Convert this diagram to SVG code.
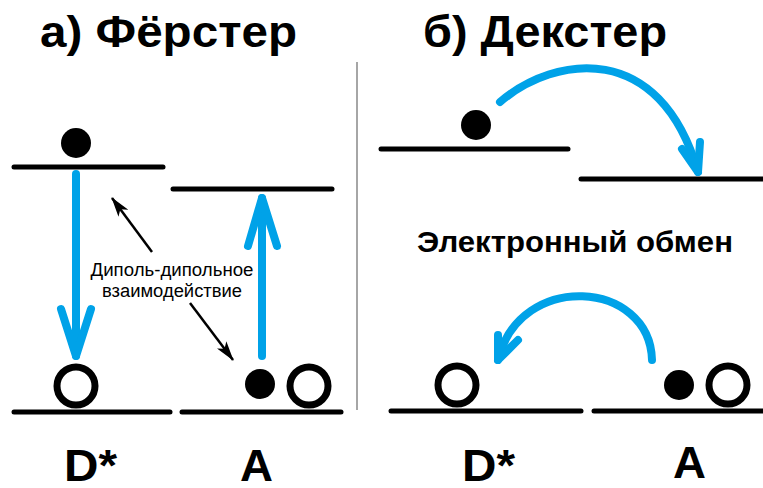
<svg xmlns="http://www.w3.org/2000/svg" width="763" height="488" viewBox="0 0 763 488">
<style>
.lvl{stroke:#000;stroke-width:5;stroke-linecap:round;fill:none}
.blue{stroke:#00a2e8;stroke-width:8;stroke-linecap:round;stroke-linejoin:round;fill:none}
.thin{stroke:#000;stroke-width:2.5;fill:none}
.dot{fill:#000}
.hole{fill:#fff;stroke:#000;stroke-width:7}
.title{font-family:"Liberation Sans",Arial,sans-serif;font-weight:bold;font-size:44px;fill:#000}
.lab{font-family:"Liberation Sans",Arial,sans-serif;font-weight:bold;font-size:44px;fill:#000}
.small{font-family:"Liberation Sans",Arial,sans-serif;font-size:18px;fill:#000;text-anchor:middle}
.mid{font-family:"Liberation Sans",Arial,sans-serif;font-weight:bold;font-size:30px;fill:#000}
</style>
<defs>
<marker id="ah" markerWidth="20" markerHeight="12" refX="19" refY="6" orient="auto" markerUnits="userSpaceOnUse">
<path d="M0,0 L20,6 L0,12 L5,6 Z" fill="#000"/>
</marker>
</defs>
<rect width="763" height="488" fill="#fff"/>
<g id="titles">
<text class="title" x="40" y="47" textLength="257" lengthAdjust="spacingAndGlyphs">а) Фёрстер</text>
<text class="title" x="423" y="47" textLength="244" lengthAdjust="spacingAndGlyphs">б) Декстер</text>
</g>
<line x1="357" y1="62" x2="357" y2="410" stroke="#888" stroke-width="1.5"/>
<g id="forster-donor">
<line class="lvl" x1="14" y1="167" x2="163" y2="167"/>
<line class="lvl" x1="14" y1="412" x2="170" y2="412"/>
<circle class="dot" cx="76" cy="143" r="15"/>
<circle class="hole" cx="76" cy="386" r="19"/>
<text class="lab" x="64" y="481" textLength="53" lengthAdjust="spacingAndGlyphs">D*</text>
</g>
<g id="forster-acceptor">
<line class="lvl" x1="173" y1="189" x2="332" y2="189"/>
<line class="lvl" x1="182" y1="412" x2="341" y2="412"/>
<circle class="dot" cx="260" cy="384" r="15"/>
<circle class="hole" cx="309" cy="386" r="19"/>
<text class="lab" x="240" y="481" textLength="33" lengthAdjust="spacingAndGlyphs">A</text>
</g>
<g id="dexter-donor">
<line class="lvl" x1="381" y1="149" x2="568" y2="149"/>
<line class="lvl" x1="391" y1="411" x2="581" y2="411"/>
<circle class="dot" cx="476" cy="125" r="15"/>
<circle class="hole" cx="457" cy="385" r="19"/>
<text class="lab" x="462" y="481" textLength="53" lengthAdjust="spacingAndGlyphs">D*</text>
</g>
<g id="dexter-acceptor">
<line class="lvl" x1="581" y1="179" x2="763" y2="179"/>
<line class="lvl" x1="594" y1="411" x2="763" y2="411"/>
<circle class="dot" cx="679" cy="385" r="15"/>
<circle class="hole" cx="728" cy="385" r="19"/>
<text class="lab" x="673" y="478" textLength="33" lengthAdjust="spacingAndGlyphs">A</text>
</g>
<g id="labels">
<text class="small" x="172" y="276" textLength="163" lengthAdjust="spacingAndGlyphs">Диполь-дипольное</text>
<text class="small" x="172" y="297" textLength="140" lengthAdjust="spacingAndGlyphs">взаимодействие</text>
<text class="mid" x="417" y="252" textLength="316" lengthAdjust="spacingAndGlyphs">Электронный обмен</text>
</g>
<g id="connectors">
<line class="blue" x1="76" y1="174" x2="76" y2="356"/>
<polyline class="blue" points="61,309 76,356 91,309"/>
<line class="blue" x1="262" y1="356" x2="262" y2="198"/>
<polyline class="blue" points="248,246 262,198 277,246"/>
<line class="thin" x1="152" y1="252" x2="112" y2="198" marker-end="url(#ah)"/>
<line class="thin" x1="190" y1="303" x2="233" y2="360" marker-end="url(#ah)"/>
<path class="blue" d="M500,102 C555,55 660,40 698,172"/>
<polyline class="blue" points="682,149 698,172 700,142"/>
<path class="blue" d="M652,360 C650,280 520,270 498,360"/>
<polyline class="blue" points="498,335 498,360 518,340"/>
</g>
</svg>
